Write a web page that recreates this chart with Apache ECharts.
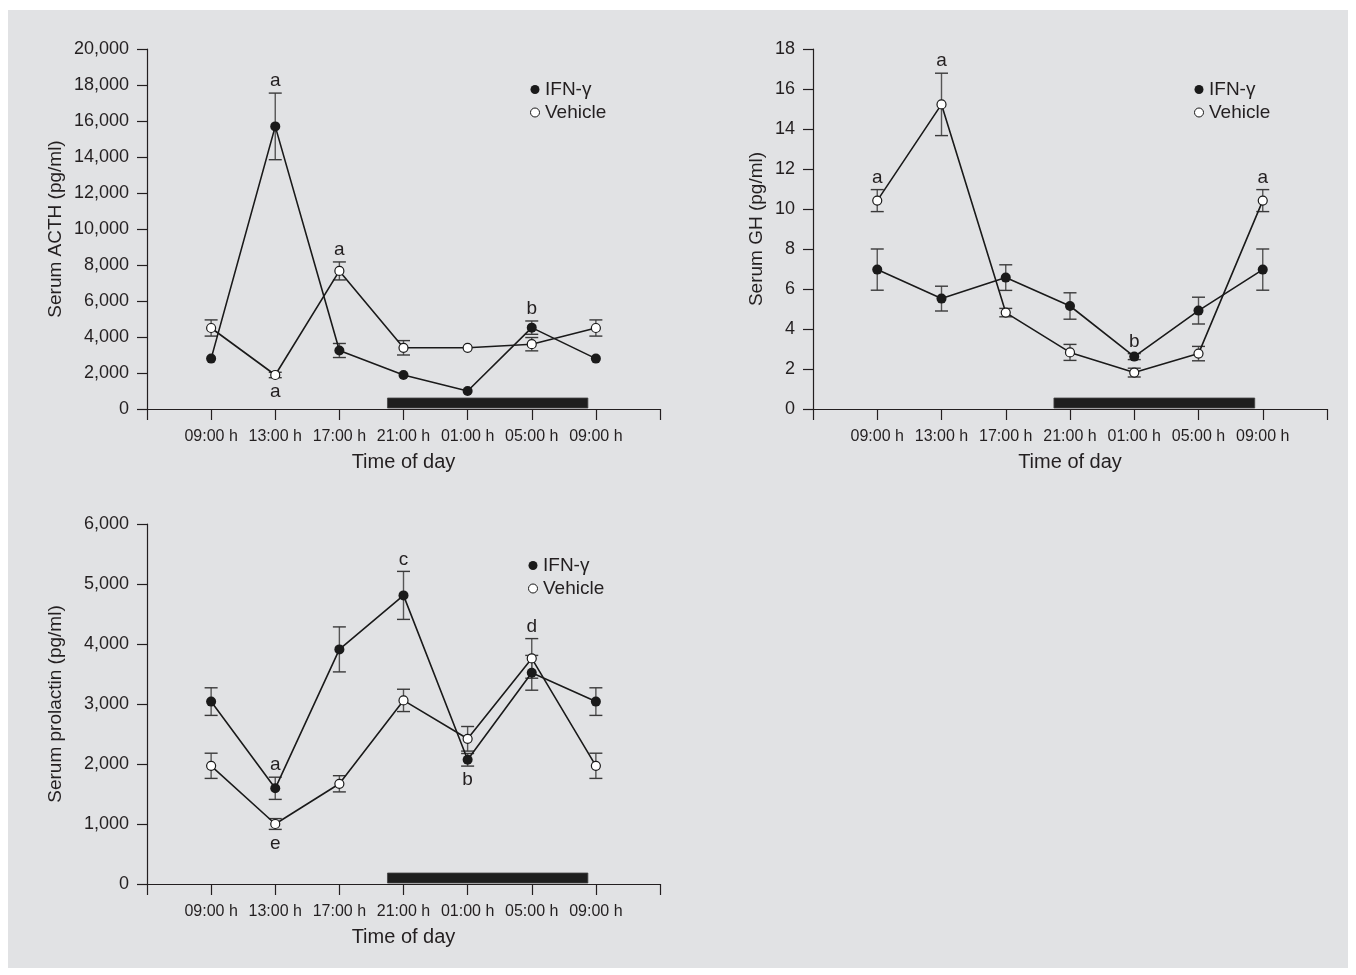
<!DOCTYPE html>
<html>
<head>
<meta charset="utf-8">
<script src="https://cdn.jsdelivr.net/npm/echarts@6/dist/echarts.min.js"></script>
<style>
  html, body { margin: 0; padding: 0; background: #ffffff; }
  #chart { position: absolute; left: 8px; top: 10px; width: 1340px; height: 958px; background: #e1e2e4; }
</style>
</head>
<body>
<div id="chart"></div>
<script>
// ---------- data ----------
const timeLabels = ['09:00 h', '13:00 h', '17:00 h', '21:00 h', '01:00 h', '05:00 h', '09:00 h'];
const seriesNames = ['IFN-γ', 'Vehicle'];
const darkPhase = [3.75, 6.875]; // start/end of dark period, in tick units (09:00 h = 1, 4 h per unit)

// ACTH (pg/ml)
const acthIfn = [2800, 15700, 3250, 1890, 1000, 4520, 2800];
const acthIfnErr = [0, 1850, 390, 0, 0, 370, 0];
const acthVeh = [4500, 1890, 7670, 3400, 3400, 3600, 4500];
const acthVehErr = [450, 150, 500, 400, 0, 370, 450];
const acthLetters = [[2, 'ifn', 'a', 'above'], [2, 'veh', 'a', 'below'], [3, 'veh', 'a', 'above'], [6, 'ifn', 'b', 'above']];

// GH (pg/ml)
const ghIfn = [6.97, 5.52, 6.57, 5.15, 2.62, 4.92, 6.97];
const ghIfnErr = [1.03, 0.62, 0.64, 0.66, 0.15, 0.67, 1.03];
const ghVeh = [10.42, 15.23, 4.82, 2.83, 1.82, 2.77, 10.42];
const ghVehErr = [0.55, 1.56, 0.21, 0.4, 0.22, 0.36, 0.55];
const ghLetters = [[1, 'veh', 'a', 'above'], [2, 'veh', 'a', 'above'], [5, 'ifn', 'b', 'above'], [7, 'veh', 'a', 'above']];

// Prolactin (pg/ml)
const prlIfn = [3040, 1595, 3910, 4810, 2070, 3520, 3040];
const prlIfnErr = [230, 185, 375, 400, 105, 290, 230];
const prlVeh = [1970, 1000, 1670, 3060, 2420, 3760, 1970];
const prlVehErr = [210, 90, 135, 186, 205, 330, 210];
const prlLetters = [[2, 'ifn', 'a', 'above'], [2, 'veh', 'e', 'below'], [4, 'ifn', 'c', 'above'], [5, 'ifn', 'b', 'below'], [6, 'veh', 'd', 'above']];

// ---------- styling ----------
const FONT = '"Liberation Sans", Arial, Helvetica, sans-serif';
const INK = '#231f20';

const panels = [
  { name: 'Serum ACTH (pg/ml)', max: 20000, interval: 2000, nameGap: 82, ifn: acthIfn, ifnErr: acthIfnErr, veh: acthVeh, vehErr: acthVehErr, letters: acthLetters,
    grid: { left: 139, top: 39, width: 513, height: 360 }, legend: { left: 517, top: 65 } },
  { name: 'Serum GH (pg/ml)', max: 18, interval: 2, nameGap: 47, ifn: ghIfn, ifnErr: ghIfnErr, veh: ghVeh, vehErr: ghVehErr, letters: ghLetters,
    grid: { left: 805, top: 39, width: 514, height: 360 }, legend: { left: 1181, top: 65 } },
  { name: 'Serum prolactin (pg/ml)', max: 6000, interval: 1000, nameGap: 82, ifn: prlIfn, ifnErr: prlIfnErr, veh: prlVeh, vehErr: prlVehErr, letters: prlLetters,
    grid: { left: 139, top: 514, width: 513, height: 360 }, legend: { left: 515, top: 541 } }
];

const option = {
  animation: false,
  backgroundColor: '#e1e2e4',
  textStyle: { fontFamily: FONT, color: INK },
  grid: [], xAxis: [], yAxis: [], legend: [], series: []
};

panels.forEach((p, i) => {
  option.grid.push(Object.assign({ containLabel: false }, p.grid));
  option.xAxis.push({
    type: 'value', gridIndex: i, min: 0, max: 8, interval: 1,
    name: 'Time of day', nameLocation: 'middle', nameGap: 43,
    nameTextStyle: { fontSize: 20, color: INK, fontFamily: FONT },
    axisLine: { show: true, lineStyle: { color: INK, width: 1.2 } },
    axisTick: { show: true, length: 11, lineStyle: { color: INK, width: 1.2 } },
    splitLine: { show: false },
    axisLabel: {
      margin: 20, fontSize: 16, color: INK, fontFamily: FONT,
      formatter: v => (v >= 1 && v <= timeLabels.length) ? timeLabels[v - 1] : ''
    }
  });
  option.yAxis.push({
    type: 'value', gridIndex: i, min: 0, max: p.max, interval: p.interval,
    name: p.name, nameLocation: 'middle', nameGap: p.nameGap,
    nameTextStyle: { fontSize: 19, color: INK, fontFamily: FONT },
    axisLine: { show: true, lineStyle: { color: INK, width: 1.2 } },
    axisTick: { show: true, length: 10, lineStyle: { color: INK, width: 1.2 } },
    splitLine: { show: false },
    axisLabel: { margin: 18, fontSize: 18, color: INK, fontFamily: FONT }
  });
  option.legend.push({
    left: p.legend.left, top: p.legend.top, orient: 'vertical', itemGap: 4,
    itemWidth: 16, itemHeight: 9, icon: 'circle', selectedMode: false,
    textStyle: { fontSize: 19, color: INK, fontFamily: FONT, padding: [0, 0, 0, -3] },
    data: [
      { name: seriesNames[0], itemStyle: { color: '#1a1a1a', borderWidth: 0 } },
      { name: seriesNames[1], itemStyle: { color: '#ffffff', borderColor: '#1a1a1a', borderWidth: 1 } }
    ]
  });

  // dark-phase bar
  option.series.push({
    type: 'custom', xAxisIndex: i, yAxisIndex: i, silent: true, z: 1,
    data: [[darkPhase[0], darkPhase[1]]],
    encode: { x: [0, 1] },
    renderItem: (params, api) => {
      const a = api.coord([api.value(0), 0]);
      const b = api.coord([api.value(1), 0]);
      return { type: 'rect', shape: { x: a[0], y: a[1] - 11, width: b[0] - a[0], height: 10 },
               style: { fill: '#1e1e1e', stroke: '#444', lineWidth: 0.8 } };
    }
  });

  // error bars
  const errSeries = (vals, errs) => ({
    type: 'custom', xAxisIndex: i, yAxisIndex: i, silent: true, z: 2,
    data: vals.map((v, k) => [k + 1, v - errs[k], v + errs[k]]).filter((d, k) => errs[k] > 0),
    encode: { x: 0, y: [1, 2] },
    renderItem: (params, api) => {
      const lo = api.coord([api.value(0), api.value(1)]);
      const hi = api.coord([api.value(0), api.value(2)]);
      const hw = 6.5;
      const st = { stroke: '#3a3a3a', lineWidth: 1.4 };
      return { type: 'group', children: [
        { type: 'line', shape: { x1: lo[0], y1: lo[1], x2: hi[0], y2: hi[1] }, style: { stroke: '#555', lineWidth: 1.4 } },
        { type: 'line', shape: { x1: lo[0] - hw, y1: lo[1], x2: lo[0] + hw, y2: lo[1] }, style: st },
        { type: 'line', shape: { x1: hi[0] - hw, y1: hi[1], x2: hi[0] + hw, y2: hi[1] }, style: st }
      ] };
    }
  });
  option.series.push(errSeries(p.ifn, p.ifnErr));
  option.series.push(errSeries(p.veh, p.vehErr));

  // lines
  option.series.push({
    name: seriesNames[0], type: 'line', xAxisIndex: i, yAxisIndex: i, z: 4,
    data: p.ifn.map((v, k) => [k + 1, v]),
    symbol: 'circle', symbolSize: 10,
    lineStyle: { color: '#1a1a1a', width: 1.6 },
    itemStyle: { color: '#1a1a1a', borderWidth: 0 }
  });
  option.series.push({
    name: seriesNames[1], type: 'line', xAxisIndex: i, yAxisIndex: i, z: 5,
    data: p.veh.map((v, k) => [k + 1, v]),
    symbol: 'circle', symbolSize: 9,
    lineStyle: { color: '#1a1a1a', width: 1.6 },
    itemStyle: { color: '#ffffff', borderColor: '#1a1a1a', borderWidth: 1.2 }
  });

  // significance letters
  const lettersData = p.letters.map(L => {
    const k = L[0] - 1;
    const vals = L[1] === 'ifn' ? p.ifn : p.veh;
    const errs = L[1] === 'ifn' ? p.ifnErr : p.vehErr;
    const y = L[3] === 'above' ? vals[k] + errs[k] : vals[k] - errs[k];
    return [L[0], y];
  });
  option.series.push({
    type: 'custom', xAxisIndex: i, yAxisIndex: i, silent: true, z: 6,
    data: lettersData, encode: { x: 0, y: 1 },
    renderItem: (params, api) => {
      const L = p.letters[params.dataIndex];
      const pt = api.coord([api.value(0), api.value(1)]);
      const off = L[3] === 'above' ? -12 : 14;
      return { type: 'text', style: { x: pt[0], y: pt[1] + off, text: L[2], fill: INK,
        font: '19px ' + FONT, align: 'center', verticalAlign: 'middle' } };
    }
  });
});

const chart = echarts.init(document.getElementById('chart'), null, { renderer: 'canvas' });
chart.setOption(option);
</script>
</body>
</html>
